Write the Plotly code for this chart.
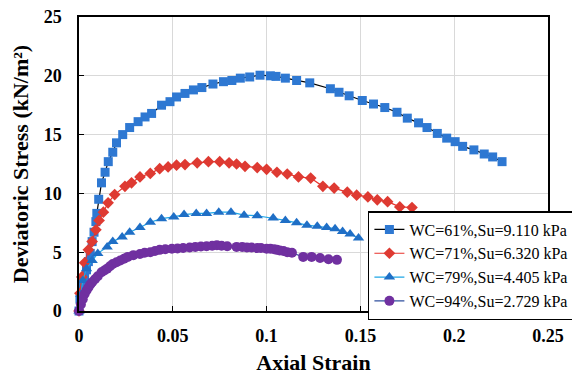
import plotly.graph_objects as go

# ---- data ----
s1_name = "WC=61%,Su=9.110 kPa"
s1_x = [0, 0.0005, 0.002, 0.003, 0.004, 0.005, 0.006, 0.007, 0.008, 0.009, 0.0095, 0.0105,
        0.012, 0.0139, 0.0156, 0.018, 0.020, 0.0233, 0.027, 0.0315, 0.0352, 0.0387, 0.044,
        0.0485, 0.052, 0.0565, 0.061, 0.0655, 0.0714, 0.077, 0.0815, 0.086, 0.091, 0.0965,
        0.102, 0.105, 0.11, 0.116, 0.123, 0.134, 0.1386, 0.144, 0.151, 0.157, 0.163, 0.1695,
        0.175, 0.181, 0.1855, 0.191, 0.196, 0.2005, 0.2045, 0.2105, 0.216, 0.2205, 0.2255]
s1_y = [0, 1.0, 2.0, 2.8, 3.5, 4.2, 4.9, 5.9, 6.7, 7.6, 8.3, 9.5, 10.9, 11.8, 12.7, 13.5, 14.3,
        15.0, 15.6, 16.1, 16.5, 16.8, 17.5, 17.8, 18.2, 18.5, 18.8, 19.0, 19.3, 19.5, 19.6,
        19.8, 19.9, 20.05, 20.0, 19.95, 19.8, 19.6, 19.4, 18.9, 18.6, 18.3, 17.9, 17.6, 17.3,
        16.9, 16.4, 16.0, 15.6, 15.1, 14.7, 14.4, 14.0, 13.7, 13.35, 13.1, 12.7]

s2_name = "WC=71%,Su=6.320 kPa"
s2_x = [0, 0.0005, 0.0015, 0.003, 0.005, 0.007, 0.009, 0.0107, 0.013, 0.0155, 0.019, 0.0245,
        0.028, 0.0325, 0.038, 0.043, 0.0475, 0.052, 0.0565, 0.063, 0.069, 0.075, 0.080, 0.084,
        0.0885, 0.095, 0.100, 0.1055, 0.111, 0.117, 0.1235, 0.130, 0.136, 0.143, 0.148, 0.154,
        0.159, 0.1645, 0.171, 0.1775]
s2_y = [0, 1.5, 2.9, 4.1, 5.2, 5.9, 6.9, 7.7, 8.4, 9.2, 9.9, 10.6, 10.9, 11.4, 11.7, 12.1,
        12.25, 12.4, 12.45, 12.6, 12.7, 12.7, 12.6, 12.5, 12.3, 12.2, 12.05, 11.8, 11.65, 11.4,
        11.3, 10.6, 10.45, 10.1, 9.85, 9.7, 9.45, 9.3, 8.85, 8.8]

s3_name = "WC=79%,Su=4.405 kPa"
s3_x = [0, 0.001, 0.002, 0.004, 0.007, 0.010, 0.015, 0.018, 0.023, 0.027, 0.0325, 0.038, 0.044,
        0.0505, 0.056, 0.0625, 0.068, 0.0745, 0.081, 0.088, 0.095, 0.1035, 0.11, 0.116, 0.1215,
        0.127, 0.132, 0.1365, 0.1405, 0.1445, 0.149]
s3_y = [0, 1.4, 2.6, 3.6, 4.3, 4.9, 5.45, 5.9, 6.3, 6.7, 7.1, 7.55, 7.85, 8.0, 8.2, 8.3, 8.3,
        8.4, 8.4, 8.15, 8.1, 7.9, 7.7, 7.5, 7.3, 7.2, 7.1, 7.0, 6.75, 6.55, 6.2]

s4_name = "WC=94%,Su=2.729 kPa"
s4_x = [0, 0.001, 0.002, 0.003, 0.004, 0.005, 0.006, 0.007, 0.0085, 0.010, 0.012, 0.0135, 0.015,
        0.0165, 0.018, 0.020, 0.022, 0.024, 0.026, 0.029, 0.0325, 0.035, 0.038, 0.0405, 0.043,
        0.046, 0.0495, 0.0525, 0.0555, 0.059, 0.062, 0.065, 0.068, 0.071, 0.0735, 0.076, 0.079,
        0.084, 0.087, 0.0895, 0.092, 0.095, 0.097, 0.100, 0.102, 0.104, 0.1055, 0.107, 0.109,
        0.111, 0.1135, 0.1195, 0.124, 0.1285, 0.133, 0.1375]
s4_y = [0, 0.55, 1.0, 1.45, 1.75, 2.0, 2.25, 2.45, 2.7, 2.95, 3.3, 3.45, 3.6, 3.8, 4.0, 4.15,
        4.3, 4.45, 4.6, 4.75, 4.85, 4.95, 5.0, 5.1, 5.2, 5.25, 5.3, 5.32, 5.35, 5.4, 5.45, 5.48,
        5.5, 5.55, 5.6, 5.55, 5.5, 5.45, 5.45, 5.4, 5.4, 5.35, 5.35, 5.3, 5.3, 5.25, 5.2, 5.15,
        5.1, 5.0, 4.95, 4.6, 4.6, 4.5, 4.4, 4.35]

x_ticks = [0, 0.05, 0.1, 0.15, 0.2, 0.25]
x_ticklabels = ["0", "0.05", "0.1", "0.15", "0.2", "0.25"]
y_ticks = [0, 5, 10, 15, 20, 25]
y_ticklabels = ["0", "5", "10", "15", "20", "25"]
x_title = "Axial Strain"
y_title = "Deviatoric Stress (kN/m²)"

FONT = "Liberation Serif, Times New Roman, serif"

series = [
    (s1_name, s1_x, s1_y, "square", 9, "#2E78D2", "#000000"),
    (s2_name, s2_x, s2_y, "diamond", 9, "#DE3A32", "#E8312A"),
    (s3_name, s3_x, s3_y, "triangle-up", 10, "#1F6FC6", "#1EA6E6"),
    (s4_name, s4_x, s4_y, "circle", 10, "#7030A0", "#2F4F9E"),
]

fig = go.Figure()
for name, xs, ys, sym, sz, mcol, lcol in series:
    fig.add_trace(go.Scatter(
        x=xs, y=ys, name=name, mode="lines+markers",
        line=dict(color=lcol, width=1.2),
        marker=dict(symbol=sym, size=sz, color=mcol, line=dict(width=0)),
        cliponaxis=False,
    ))

axis_common = dict(
    showline=True, linecolor="black", linewidth=1.5, mirror=True,
    showgrid=True, gridcolor="#D9D9D9", gridwidth=1,
    ticks="inside", ticklen=5, tickcolor="black", tickwidth=1.2,
    zeroline=False, ticklabeloverflow="allow",
    tickfont=dict(family=FONT, size=18, color="black", weight="bold"),
)

fig.update_xaxes(range=[0, 0.25], tickvals=x_ticks, ticktext=x_ticklabels,
                 ticklabelstandoff=8,
                 title=dict(text=x_title, font=dict(family=FONT, size=22, color="black", weight="bold"),
                            standoff=9),
                 **axis_common)
fig.update_yaxes(range=[0, 25], tickvals=y_ticks, ticktext=y_ticklabels,
                 ticklabelstandoff=12,
                 title=dict(text=y_title, font=dict(family=FONT, size=22, color="black", weight="bold"),
                            standoff=10),
                 **axis_common)

# page renders with an 8px offset, so margins are compensated
fig.update_layout(
    width=580, height=374,
    margin=dict(l=71, r=40, t=9, b=71, autoexpand=False),
    paper_bgcolor="white", plot_bgcolor="white",
    font=dict(family=FONT, color="black"),
    showlegend=True,
    legend=dict(
        x=0.616, y=0.34, xanchor="left", yanchor="top",
        bgcolor="white", bordercolor="black", borderwidth=1.5,
        font=dict(family=FONT, size=16, color="black"),
        itemwidth=30, tracegroupgap=0,
    ),
)

fig.write_html("out.html")
